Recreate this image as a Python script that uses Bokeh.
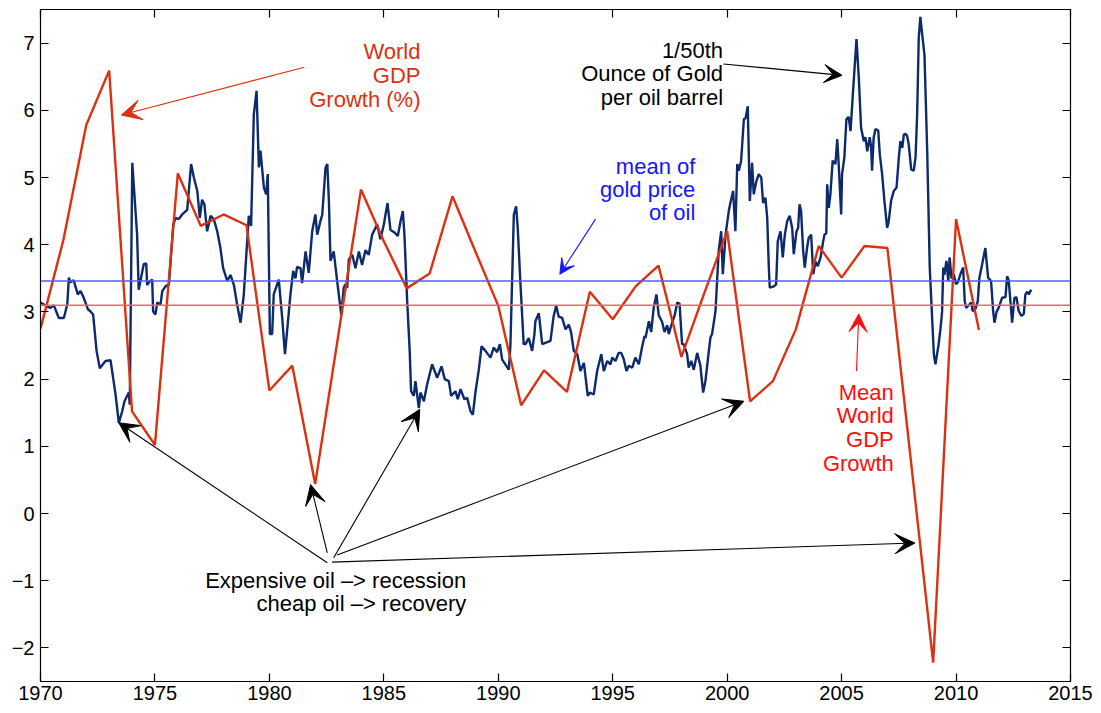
from bokeh.plotting import figure
from bokeh.models import Range1d, LinearAxis, FixedTicker, Span, Arrow, VeeHead
from bokeh.core.properties import value
from bokeh.embed import file_html
from bokeh.resources import INLINE

# world GDP growth (%), yearly
gdp_years = list(range(1970, 2012))
gdp_growth = [2.75, 4.07, 5.78, 6.59, 1.52, 1.02, 5.06, 4.28, 4.45, 4.29,
              1.83, 2.20, 0.44, 2.63, 4.82, 4.05, 3.35, 3.57, 4.72, 3.90,
              3.09, 1.61, 2.13, 1.81, 3.30, 2.89, 3.38, 3.69, 2.33, 3.28,
              4.20, 1.67, 1.97, 2.74, 3.98, 3.51, 3.98, 3.95, 0.87, -2.22,
              4.38, 2.73]

# 1/50th ounce of gold per oil barrel
gold_years = [
    1970.00, 1970.29, 1970.44, 1970.58, 1970.80, 1971.02, 1971.17, 1971.24, 1971.31, 1971.45,
    1971.63, 1971.75, 1971.89, 1972.07, 1972.18, 1972.30, 1972.45, 1972.59, 1972.84, 1973.06,
    1973.28, 1973.42, 1973.57, 1973.67, 1973.86, 1973.90, 1974.01, 1974.22, 1974.29, 1974.51,
    1974.62, 1974.66, 1974.76, 1974.88, 1974.92, 1975.02, 1975.10, 1975.24, 1975.32, 1975.46,
    1975.61, 1975.80, 1975.90, 1976.04, 1976.19, 1976.41, 1976.58, 1976.70, 1976.85, 1976.96,
    1977.06, 1977.16, 1977.28, 1977.43, 1977.57, 1977.72, 1977.86, 1977.98, 1978.16, 1978.30,
    1978.45, 1978.59, 1978.74, 1978.88, 1979.10, 1979.20, 1979.32, 1979.44, 1979.54, 1979.61,
    1979.76, 1979.86, 1979.93, 1980.02, 1980.12, 1980.19, 1980.41, 1980.56, 1980.68, 1980.92,
    1981.04, 1981.14, 1981.21, 1981.36, 1981.43, 1981.58, 1981.72, 1981.87, 1982.01, 1982.09,
    1982.23, 1982.31, 1982.45, 1982.53, 1982.60, 1982.67, 1982.81, 1982.96, 1983.14, 1983.25,
    1983.32, 1983.40, 1983.47, 1983.62, 1983.76, 1983.91, 1984.05, 1984.20, 1984.34, 1984.49,
    1984.71, 1984.85, 1985.00, 1985.16, 1985.29, 1985.47, 1985.61, 1985.73, 1985.83, 1985.90,
    1986.02, 1986.13, 1986.19, 1986.31, 1986.38, 1986.53, 1986.60, 1986.75, 1986.89, 1987.11,
    1987.33, 1987.52, 1987.66, 1987.84, 1987.94, 1988.13, 1988.23, 1988.35, 1988.52, 1988.64,
    1988.79, 1988.89, 1989.00, 1989.15, 1989.27, 1989.44, 1989.66, 1989.80, 1989.95, 1990.07,
    1990.17, 1990.31, 1990.46, 1990.53, 1990.68, 1990.78, 1990.85, 1990.97, 1991.11, 1991.19,
    1991.33, 1991.48, 1991.58, 1991.62, 1991.77, 1991.92, 1992.14, 1992.28, 1992.42, 1992.53,
    1992.64, 1992.79, 1992.94, 1993.08, 1993.18, 1993.30, 1993.45, 1993.59, 1993.74, 1993.91,
    1994.00, 1994.17, 1994.32, 1994.50, 1994.61, 1994.76, 1994.90, 1994.98, 1995.12, 1995.26,
    1995.37, 1995.48, 1995.60, 1995.70, 1995.85, 1995.99, 1996.14, 1996.29, 1996.39, 1996.43,
    1996.58, 1996.68, 1996.79, 1996.91, 1997.01, 1997.16, 1997.26, 1997.38, 1997.45, 1997.60,
    1997.70, 1997.82, 1997.92, 1998.03, 1998.10, 1998.25, 1998.32, 1998.43, 1998.54, 1998.69,
    1998.83, 1998.95, 1999.05, 1999.20, 1999.27, 1999.34, 1999.49, 1999.63, 1999.74, 1999.81,
    1999.93, 2000.07, 2000.14, 2000.26, 2000.36, 2000.44, 2000.51, 2000.61, 2000.73, 2000.80,
    2000.90, 2000.99, 2001.09, 2001.16, 2001.28, 2001.38, 2001.49, 2001.57, 2001.67, 2001.75,
    2001.82, 2001.86, 2002.04, 2002.14, 2002.21, 2002.33, 2002.43, 2002.52, 2002.62, 2002.73,
    2002.84, 2002.91, 2003.03, 2003.10, 2003.16, 2003.23, 2003.32, 2003.39, 2003.49, 2003.56,
    2003.67, 2003.76, 2003.86, 2003.96, 2004.08, 2004.18, 2004.25, 2004.33, 2004.37, 2004.44,
    2004.51, 2004.61, 2004.73, 2004.81, 2004.88, 2004.98, 2005.02, 2005.12, 2005.21, 2005.31,
    2005.39, 2005.50, 2005.65, 2005.75, 2005.85, 2005.97, 2006.04, 2006.12, 2006.23, 2006.29,
    2006.33, 2006.40, 2006.48, 2006.60, 2006.67, 2006.77, 2006.87, 2006.99, 2007.06, 2007.16,
    2007.28, 2007.40, 2007.50, 2007.57, 2007.65, 2007.72, 2007.79, 2007.86, 2007.93, 2008.04,
    2008.15, 2008.23, 2008.30, 2008.37, 2008.44, 2008.52, 2008.62, 2008.74, 2008.85, 2009.03,
    2009.10, 2009.24, 2009.32, 2009.39, 2009.44, 2009.49, 2009.58, 2009.66, 2009.72, 2009.80,
    2009.90, 2010.00, 2010.09, 2010.19, 2010.31, 2010.38, 2010.44, 2010.56, 2010.66, 2010.73,
    2010.85, 2010.95, 2011.02, 2011.14, 2011.28, 2011.40, 2011.53, 2011.62, 2011.68, 2011.77,
    2011.87, 2012.01, 2012.16, 2012.23, 2012.30, 2012.38, 2012.45, 2012.55, 2012.64, 2012.74,
    2012.86, 2012.96, 2013.03, 2013.11, 2013.18, 2013.25, 2013.29]
gold_ratio = [
    3.14, 3.08, 3.06, 3.10, 2.91, 2.91, 3.11, 3.51, 3.44, 3.47,
    3.26, 3.31, 3.21, 3.04, 3.01, 2.96, 2.42, 2.16, 2.27, 2.28,
    1.77, 1.35, 1.52, 1.67, 1.80, 1.62, 5.22, 4.15, 3.33, 3.71,
    3.72, 3.40, 3.45, 3.48, 3.01, 2.96, 3.14, 3.10, 3.31, 3.38,
    3.41, 4.30, 4.40, 4.38, 4.45, 4.52, 5.20, 5.00, 4.80, 4.40,
    4.67, 4.60, 4.20, 4.43, 4.38, 4.20, 3.95, 3.65, 3.46, 3.55,
    3.40, 3.11, 2.84, 3.25, 4.43, 4.28, 5.94, 6.29, 5.15, 5.40,
    4.85, 4.75, 5.05, 2.67, 2.67, 3.26, 3.48, 2.91, 2.37, 3.26,
    3.61, 3.50, 3.67, 3.65, 3.43, 3.90, 3.58, 4.20, 4.45, 4.15,
    4.35, 4.45, 5.14, 5.20, 4.65, 3.76, 3.90, 3.46, 2.96, 3.36,
    3.41, 3.36, 3.78, 3.85, 3.65, 3.90, 3.70, 3.92, 3.85, 4.15,
    4.30, 4.08, 4.30, 4.62, 4.22, 4.18, 4.13, 4.35, 4.50, 4.15,
    3.16, 2.42, 1.82, 1.75, 1.97, 1.57, 1.80, 1.67, 1.92, 2.22,
    2.02, 2.19, 2.00, 1.97, 1.75, 1.82, 1.70, 1.85, 1.70, 1.72,
    1.52, 1.47, 1.80, 2.14, 2.49, 2.42, 2.32, 2.47, 2.40, 2.52,
    2.29, 2.22, 2.14, 2.50, 4.45, 4.57, 4.25, 3.41, 2.52, 2.52,
    2.61, 2.42, 2.67, 2.86, 2.98, 2.52, 2.55, 2.57, 2.94, 3.09,
    2.93, 2.91, 2.74, 2.81, 2.70, 2.42, 2.37, 2.12, 2.24, 1.75,
    1.80, 1.77, 2.12, 2.37, 2.12, 2.27, 2.22, 2.32, 2.27, 2.39,
    2.39, 2.30, 2.12, 2.20, 2.17, 2.32, 2.22, 2.49, 2.64, 2.61,
    2.86, 2.70, 3.06, 3.26, 2.95, 2.85, 2.70, 2.80, 2.67, 2.85,
    2.94, 3.14, 3.12, 2.52, 2.52, 2.37, 2.17, 2.27, 2.14, 2.39,
    2.20, 1.80, 1.97, 2.42, 2.62, 2.67, 3.01, 3.91, 4.20, 3.56,
    4.15, 4.50, 4.62, 4.80, 4.20, 5.20, 5.10, 5.25, 5.87, 5.88,
    6.06, 4.65, 5.22, 4.75, 4.95, 5.05, 5.00, 4.62, 4.70, 4.40,
    3.66, 3.36, 3.38, 3.41, 4.05, 4.20, 3.81, 4.15, 4.35, 4.43,
    4.25, 3.86, 4.20, 4.25, 4.60, 4.50, 3.91, 3.66, 3.95, 4.10,
    4.15, 3.56, 3.75, 3.68, 3.81, 4.02, 4.15, 4.17, 4.90, 4.55,
    4.75, 5.25, 5.20, 5.57, 5.15, 4.45, 5.05, 5.30, 5.87, 5.90,
    5.69, 6.29, 7.06, 6.49, 5.74, 5.54, 5.60, 5.39, 5.60, 5.45,
    5.10, 5.59, 5.72, 5.70, 5.34, 5.05, 4.65, 4.25, 4.35, 4.65,
    4.80, 4.85, 5.30, 5.54, 5.44, 5.64, 5.65, 5.62, 5.50, 5.12,
    5.10, 5.30, 5.94, 7.08, 7.39, 7.13, 6.83, 5.39, 3.66, 2.37,
    2.22, 2.52, 2.75, 3.00, 3.66, 3.55, 3.76, 3.46, 3.81, 3.50,
    3.56, 3.41, 3.45, 3.56, 3.66, 3.16, 3.06, 3.10, 3.14, 3.01,
    3.05, 3.16, 3.51, 3.71, 3.95, 3.51, 3.46, 3.01, 2.84, 3.00,
    3.07, 3.21, 3.22, 3.53, 3.47, 3.14, 2.84, 3.21, 3.22, 3.01,
    2.94, 2.97, 3.26, 3.30, 3.26, 3.31, 3.33]

gold_mean = 3.46
gdp_mean = 3.10

x_ticks = list(range(1970, 2016, 5))
y_ticks = list(range(-2, 8))

FONT = "Liberation Sans"
GDP_COLOR = "#dc3110"
GOLD_COLOR = "#0c2a6c"

p = figure(width=1093, height=710, x_range=Range1d(1970, 2015), y_range=Range1d(-2.5, 7.5),
           output_backend="svg", toolbar_location=None,
           min_border_left=40, min_border_right=23, min_border_top=9, min_border_bottom=29)
p.grid.visible = False
p.outline_line_color = "black"
p.background_fill_color = "white"
p.border_fill_color = "white"

bottom_axis = p.below[0]
left_axis = p.left[0]
top_axis = LinearAxis()
right_axis = LinearAxis()
p.add_layout(top_axis, "above")
p.add_layout(right_axis, "right")

def style_axis(ax, ticks, labels=True):
    ax.ticker = FixedTicker(ticks=ticks)
    ax.major_tick_in = 8
    ax.major_tick_out = 0
    ax.minor_tick_in = 0
    ax.minor_tick_out = 0
    ax.axis_line_color = "black"
    ax.axis_line_width = 1.2
    ax.major_tick_line_color = "black"
    ax.major_tick_line_width = 1.2
    ax.major_label_text_font = FONT
    if labels:
        ax.major_label_text_font_size = "20px"
        ax.major_label_text_color = "black"
    else:
        ax.major_label_text_font_size = "0px"
        ax.major_label_text_color = None
        ax.major_label_standoff = 0

style_axis(bottom_axis, x_ticks)
style_axis(left_axis, y_ticks)
style_axis(top_axis, x_ticks, labels=False)
style_axis(right_axis, y_ticks, labels=False)
bottom_axis.major_label_standoff = 4
left_axis.major_label_standoff = 6
left_axis.major_label_overrides = {-2: "\u22122", -1: "\u22121"}

p.line(gold_years, gold_ratio, line_color=GOLD_COLOR, line_width=2.4)
p.line(gdp_years, gdp_growth, line_color=GDP_COLOR, line_width=2.4)

p.add_layout(Span(location=gold_mean, dimension="width", line_color="#5a5aff", line_width=1.5))
p.add_layout(Span(location=gdp_mean, dimension="width", line_color="#ff6464", line_width=1.5))

def add_text(x, ys, lines, color):
    p.text(x=[x] * len(lines), y=ys, text=lines, text_align="right",
           text_baseline="alphabetic", text_font=value(FONT),
           text_font_size="22px", text_color=color)

def add_arrow(x0, y0, x1, y1, color, size):
    p.add_layout(Arrow(end=VeeHead(size=size, fill_color=color, line_color=color, line_width=1),
                       x_start=x0, y_start=y0, x_end=x1, y_end=y1,
                       line_color=color, line_width=1.1))

# annotations
add_text(1986.60, [6.88, 6.525, 6.163], ["World", "GDP", "Growth (%)"], GDP_COLOR)
add_arrow(1981.53, 6.64, 1973.53, 5.93, GDP_COLOR, 20)

add_text(1999.82, [6.897, 6.544, 6.187], ["1/50th", "Ounce of Gold", "per oil barrel"], "black")
add_arrow(1999.84, 6.69, 2005.02, 6.52, "black", 18)

add_text(1998.61, [5.17, 4.824, 4.475], ["mean of", "gold price", "of oil"], "#1616ff")
add_arrow(1994.25, 4.38, 1992.69, 3.56, "#1616ff", 15)

add_text(2007.28, [1.807, 1.46, 1.103, 0.746], ["Mean", "World", "GDP", "Growth"], "#ff0d0d")
add_arrow(2005.65, 2.12, 2005.75, 2.97, "#ff0d0d", 18)

add_text(1988.60, [-0.991, -1.344], ["Expensive oil \u2013> recession", "cheap oil \u2013> recovery"], "black")
add_arrow(1982.53, -0.734, 1973.42, 1.35, "black", 20)
add_arrow(1982.53, -0.585, 1981.80, 0.43, "black", 20)
add_arrow(1982.81, -0.659, 1986.57, 1.55, "black", 20)
add_arrow(1982.96, -0.619, 2000.73, 1.67, "black", 20)
add_arrow(1982.74, -0.723, 2008.20, -0.44, "black", 20)

open("out.html", "w").write(file_html(p, INLINE))
